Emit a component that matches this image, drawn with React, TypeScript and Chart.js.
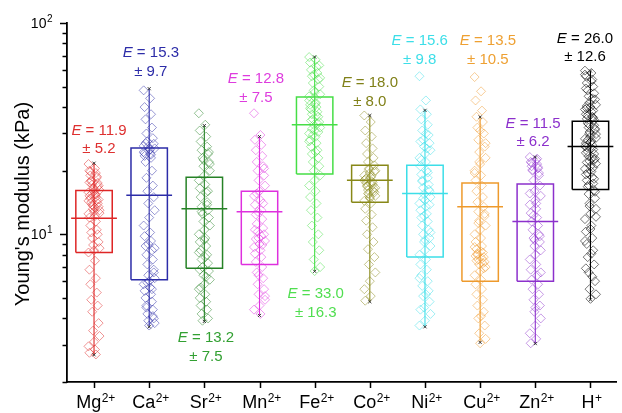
import React, { useEffect, useRef } from "react";
import { Chart, registerables } from "chart.js";

Chart.register(...registerables);

// ---------- data ----------
const categories = ["Mg", "Ca", "Sr", "Mn", "Fe", "Co", "Ni", "Cu", "Zn", "H"];
const charges = ["2+", "2+", "2+", "2+", "2+", "2+", "2+", "2+", "2+", "+"];
const means = [11.9, 15.3, 13.2, 12.8, 33.0, 18.0, 15.6, 13.5, 11.5, 26.0];
const sds = [5.2, 9.7, 7.5, 7.5, 16.3, 8.0, 9.8, 10.5, 6.2, 12.6];
const boxLow = [8.2, 6.1, 6.9, 7.2, 19.3, 14.2, 7.8, 6.0, 6.0, 16.3];
const boxHigh = [16.1, 25.6, 18.6, 16.0, 44.7, 21.2, 21.2, 17.5, 17.3, 34.3];
const whiskLow = [2.69, 3.65, 3.87, 4.13, 6.68, 4.8, 3.65, 3.08, 3.04, 4.9];
const whiskHigh = [21.7, 48.9, 32.7, 29.0, 69.0, 36.5, 38.6, 35.9, 23.2, 59.3];

const mgValues = [21.5, 20.5, 20, 19.5, 19, 18.5, 18, 17.5, 17.2, 17, 16.5, 16.2, 16, 15.8, 15.5, 15.2, 15, 14.8, 14.5, 14.2, 14, 13.8, 13.5, 13.2, 13, 12.8, 12.5, 12.2, 12, 11.5, 11, 10.5, 10.2, 10, 9.6, 9.2, 8.9, 8.6, 8.4, 8.2, 7.5, 6.8, 6.2, 5.8, 5.3, 4.9, 4.6, 4.3, 3.8, 3.5, 3.3, 3.1, 2.95, 2.85, 2.75, 2.7, 19.8, 18.8, 17.8, 16.8, 15.6, 14.6, 13.6, 12.6, 16.4, 14.4, 13.4, 17.6, 15.4];
const caValues = [48, 44, 40, 37, 35, 32, 30, 28.5, 27.5, 26.8, 26, 25.5, 25, 24.5, 24, 23.5, 23, 22, 20, 18.5, 17, 16, 15, 14, 13, 12, 11, 10.2, 9.8, 9.3, 8.8, 8.4, 8, 7.6, 7.2, 6.8, 6.4, 6.2, 6, 5.8, 5.6, 5.4, 5.2, 5, 4.8, 4.6, 4.4, 4.2, 4.0, 3.9, 3.8, 3.7, 26.2, 25.2, 24.2, 23.8, 27, 5.5, 4.5, 4.1, 5.9, 6.6, 9, 8.6];
const srValues = [37.4, 33, 31, 29, 27.5, 26, 25, 24, 23, 22, 21, 20, 19, 18, 17.2, 16.5, 15.8, 15, 14.2, 13.5, 13, 12.5, 12, 11.5, 11, 10.5, 10, 9.6, 9.2, 8.8, 8.4, 8, 7.6, 7.3, 7, 6.7, 6.4, 6.1, 5.8, 5.5, 5.2, 5, 4.8, 4.6, 4.4, 4.2, 4.0, 3.9, 24.5, 22.5, 21.5, 9.4, 8.2, 7.8, 6.8, 6.3, 5.6, 13.8, 12.8, 16];
const mnValues = [37.4, 29.5, 28, 26.5, 25, 23.5, 22, 21, 20, 19, 18, 17, 16, 15.2, 14.5, 13.8, 13, 12.4, 11.8, 11.2, 10.7, 10.3, 10, 9.6, 9.3, 9, 8.7, 8.4, 8.1, 7.8, 7.4, 7, 6.6, 6.2, 5.8, 5.5, 5.2, 4.9, 4.6, 4.4, 4.2, 10.5, 9.8, 9.5, 8.9, 15.6, 14, 12.8, 20.5, 6.4, 5.1];
const feValues = [69, 67, 65, 62, 60, 58, 56, 54, 52, 50, 48, 46, 44.5, 43, 42, 41, 40, 39, 38, 37, 36, 35, 34, 33, 32, 31, 30, 29, 28, 27, 26, 25, 24, 23, 22, 21, 20, 19, 18, 17, 16, 15, 14, 13, 12, 11, 10, 9.2, 8.4, 7.6, 7, 6.7, 45, 41.5, 39.5, 36.5, 34.5, 33.5, 31.5, 30.5, 29.5, 63, 57, 55, 47, 27.5, 24.5];
const coValues = [36.5, 34, 31, 29, 27, 25.5, 24, 23, 22, 21.2, 20.5, 20, 19.5, 19, 18.6, 18.2, 17.8, 17.5, 17.2, 16.8, 16.5, 16.2, 15.8, 15.5, 15.2, 14.8, 14.4, 14, 13.2, 12.4, 11.6, 10.8, 10, 9.2, 8.5, 7.8, 7.2, 6.6, 6, 5.5, 5.1, 4.85, 18.9, 18.4, 17.6, 17.0, 16.0, 15.6, 19.8, 20.2, 16.6, 15.0, 18.0, 17.3];
const niValues = [56, 43, 39, 37, 35, 33, 31, 29.5, 28, 27, 26, 25, 24, 23, 22, 21, 20, 19.2, 18.5, 17.8, 17.2, 16.6, 16, 15.5, 15, 14.5, 14, 13.5, 13, 12.5, 12, 11.5, 11, 10.5, 10, 9.6, 9.2, 8.8, 8.4, 8, 7.6, 7.2, 6.8, 6.4, 6, 5.7, 5.4, 5.1, 4.8, 4.5, 4.2, 3.9, 3.7, 30, 27.5, 25.5, 22.5, 19.6, 18, 16.3, 14.8, 13.8, 12.2, 10.2, 9.4, 6.2, 5.2, 4.4];
const cuValues = [55.5, 47.5, 43, 38.5, 36, 34, 32, 30, 28, 26, 24.5, 23, 21.5, 20, 19, 18, 17, 16, 15, 14.2, 13.5, 12.8, 12.2, 11.6, 11, 10.5, 10, 9.6, 9.2, 8.8, 8.5, 8.2, 8, 7.8, 7.6, 7.4, 7.2, 7, 6.7, 6.4, 6.1, 5.8, 5.5, 5.2, 4.9, 4.6, 4.3, 4, 3.7, 3.4, 3.2, 3.05, 8.7, 8.3, 7.9, 7.7, 7.5, 7.3, 8.1, 6.9, 11.3, 12.5, 22, 27, 31, 19.5, 4.1];
const znValues = [23.2, 22.5, 22, 21.5, 21, 20.5, 20, 19, 18, 17, 16, 15.2, 14.5, 13.8, 13.2, 12.6, 12, 11.5, 11, 10.5, 10, 9.6, 9.2, 8.8, 8.4, 8, 7.6, 7.2, 6.8, 6.4, 6.1, 5.8, 5.5, 5.2, 4.9, 4.6, 4.3, 4, 3.7, 3.4, 3.2, 3.05, 22.8, 21.8, 20.8, 20.2, 19.5, 12.3, 9.8, 9.4, 6.6, 4.5, 15.6, 14];
const hValues = [59.5, 58, 56, 54, 52, 50, 48, 46.5, 45, 43.5, 42, 41, 40, 39, 38, 37, 36, 35.2, 34.4, 33.6, 32.8, 32, 31.2, 30.5, 29.8, 29, 28.3, 27.6, 27, 26.4, 25.8, 25.2, 24.6, 24, 23.4, 22.8, 22.2, 21.6, 21, 20.4, 19.8, 19.2, 18.6, 18, 17.4, 16.8, 16.2, 15.5, 14.8, 14, 13.2, 12.5, 11.8, 11, 10.3, 9.6, 9, 8.4, 7.8, 7.2, 6.6, 6, 5.5, 5.2, 4.95, 57, 53, 49, 44, 40.5, 38.5, 36.5, 34.8, 33.2, 31.6, 30, 28.6, 27.3, 26.1, 25.5, 24.3, 23.1, 21.9, 20.7, 19.5, 18.3, 17.1, 15.9, 13.6, 12.1, 10.6, 9.3, 8.1, 6.9, 6.3, 39.5, 35.6, 28, 22.5];

const pointValues = [mgValues, caValues, srValues, mnValues, feValues, coValues, niValues, cuValues, znValues, hValues];

const yMajorTicks = [10, 100];
const yMajorExp = ["1", "2"];
const yMinorTicks = [2, 3, 4, 5, 6, 7, 8, 9, 20, 30, 40, 50, 60, 70, 80, 90];

// ---------- styles ----------
const colors = [
  [222, 38, 38],
  [44, 44, 168],
  [38, 130, 38],
  [222, 48, 222],
  [70, 222, 70],
  [136, 136, 24],
  [60, 222, 232],
  [238, 154, 44],
  [140, 48, 204],
  [0, 0, 0],
];
const textColors = [
  "rgb(222,48,48)",
  "rgb(44,44,168)",
  "rgb(50,160,50)",
  "rgb(222,60,222)",
  "rgb(80,222,80)",
  "rgb(128,128,24)",
  "rgb(60,222,232)",
  "rgb(238,160,50)",
  "rgb(140,48,204)",
  "rgb(0,0,0)",
];
// annotation: where the first text line sits (kPa), side offset (category units)
const labelAnchor = [31.0, 71.9, 3.22, 54.2, 5.2, 52, 81.9, 81.9, 33.4, 84.4];
const labelShift = [0.09, 0.03, 0.03, -0.066, 0.02, 0.0, -0.095, 0.14, -0.04, -0.1];

const FONT = '"Liberation Sans", Arial, Helvetica, sans-serif';
const rgba = (c: number[], a: number) => `rgba(${c[0]},${c[1]},${c[2]},${a})`;
const jitter = (k: number) => (((k * 7) % 13) - 6) / 6 * 0.1;
const BOX_HALF = 0.33;
const MEAN_HALF = 0.415;

const decorPlugin = {
  id: "decor",
  afterDraw(chart: any) {
    const { ctx, chartArea } = chart;
    const xs = chart.scales.x;
    const ys = chart.scales.y;
    const left = chartArea.left;
    const bottom = chartArea.bottom;
    ctx.save();
    ctx.strokeStyle = "#000";
    ctx.fillStyle = "#000";
    ctx.lineWidth = 1.5;
    // y ticks
    yMajorTicks.forEach((v) => {
      const py = Math.round(ys.getPixelForValue(v)) + 0.5;
      ctx.beginPath();
      ctx.moveTo(left - 7, py);
      ctx.lineTo(left, py);
      ctx.stroke();
    });
    yMinorTicks.forEach((v) => {
      const py = Math.round(ys.getPixelForValue(v)) + 0.5;
      ctx.beginPath();
      ctx.moveTo(left - 4.5, py);
      ctx.lineTo(left, py);
      ctx.stroke();
    });
    // y labels
    yMajorTicks.forEach((v, i) => {
      const py = ys.getPixelForValue(v);
      ctx.font = `14px ${FONT}`;
      const w1 = ctx.measureText("10").width;
      ctx.font = `10px ${FONT}`;
      const w2 = ctx.measureText(yMajorExp[i]).width;
      const xr = left - 15;
      ctx.textBaseline = "alphabetic";
      ctx.textAlign = "left";
      ctx.font = `14px ${FONT}`;
      ctx.fillText("10", xr - w1 - w2, py + 5);
      ctx.font = `10px ${FONT}`;
      ctx.fillText(yMajorExp[i], xr - w2 + 0.5, py - 1);
    });
    // x ticks + labels
    categories.forEach((c, i) => {
      const px = Math.round(xs.getPixelForValue(i)) + 0.5;
      ctx.beginPath();
      ctx.moveTo(px, bottom);
      ctx.lineTo(px, bottom + 6);
      ctx.stroke();
      ctx.font = `18px ${FONT}`;
      const w1 = ctx.measureText(c).width;
      ctx.font = `12px ${FONT}`;
      const w2 = ctx.measureText(charges[i]).width;
      const x0 = px - (w1 + w2) / 2 + 1;
      ctx.textAlign = "left";
      ctx.font = `18px ${FONT}`;
      ctx.fillText(c, x0, 408);
      ctx.font = `12px ${FONT}`;
      ctx.fillText(charges[i], x0 + w1 + 0.5, 402);
    });
    // y title
    ctx.save();
    ctx.translate(28.5, 204);
    ctx.rotate(-Math.PI / 2);
    ctx.textAlign = "center";
    ctx.font = `20px ${FONT}`;
    ctx.fillText("Young's modulus (kPa)", 0, 0);
    ctx.restore();
    // annotations
    categories.forEach((c, i) => {
      const cx = xs.getPixelForValue(i + labelShift[i]);
      const y1 = ys.getPixelForValue(labelAnchor[i]);
      const y2 = y1 + 18.5;
      ctx.fillStyle = textColors[i];
      const rest = ` = ${means[i].toFixed(1)}`;
      ctx.font = `italic 15px ${FONT}`;
      const we = ctx.measureText("E").width;
      ctx.font = `15px ${FONT}`;
      const wr = ctx.measureText(rest).width;
      const x0 = cx - (we + wr) / 2;
      ctx.textAlign = "left";
      ctx.textBaseline = "middle";
      ctx.font = `italic 15px ${FONT}`;
      ctx.fillText("E", x0, y1);
      ctx.font = `15px ${FONT}`;
      ctx.fillText(rest, x0 + we, y1);
      ctx.textAlign = "center";
      ctx.fillText(`± ${sds[i].toFixed(1)}`, cx, y2);
    });
    ctx.restore();
  },
};

export default function App() {
  const ref = useRef<HTMLCanvasElement | null>(null);
  useEffect(() => {
    if (!ref.current) return;
    const datasets: any[] = [];
    categories.forEach((c, i) => {
      const col = colors[i];
      datasets.push({
        type: "scatter",
        label: c + " points",
        data: pointValues[i].map((v, k) => ({ x: i + jitter(k), y: v })),
        pointStyle: "rectRot",
        pointRadius: 4.5,
        borderWidth: 0.9,
        borderColor: rgba(col, i === 9 ? 0.6 : 0.55),
        backgroundColor: "rgba(0,0,0,0)",
        order: 3,
      });
      datasets.push({
        type: "scatter",
        label: c + " whisker",
        showLine: true,
        spanGaps: false,
        data: [
          { x: i, y: whiskLow[i] },
          { x: i, y: whiskHigh[i] },
        ],
        borderColor: rgba(col, 1),
        borderWidth: 1.1,
        pointRadius: 0,
        order: 2,
      });
      datasets.push({
        type: "scatter",
        label: c + " box",
        showLine: true,
        spanGaps: false,
        data: [
          { x: i - BOX_HALF, y: boxLow[i] },
          { x: i - BOX_HALF, y: boxHigh[i] },
          { x: i + BOX_HALF, y: boxHigh[i] },
          { x: i + BOX_HALF, y: boxLow[i] },
          { x: i - BOX_HALF, y: boxLow[i] },
          { x: i, y: null },
          { x: i - MEAN_HALF, y: means[i] },
          { x: i + MEAN_HALF, y: means[i] },
        ],
        borderColor: rgba(col, 1),
        borderWidth: 1.5,
        pointRadius: 0,
        order: 1,
      });
      datasets.push({
        type: "scatter",
        label: c + " ends",
        data: [
          { x: i, y: whiskLow[i] },
          { x: i, y: whiskHigh[i] },
        ],
        pointStyle: "crossRot",
        pointRadius: 2.2,
        borderWidth: 1,
        borderColor: "rgba(40,40,40,0.9)",
        order: 0,
      });
    });

    const chart = new Chart(ref.current, {
      type: "scatter",
      data: { datasets },
      options: {
        animation: false,
        responsive: false,
        devicePixelRatio: 1,
        layout: { padding: { top: 23, left: 0, right: 0, bottom: 0 } },
        plugins: {
          legend: { display: false },
          tooltip: { enabled: false },
        },
        scales: {
          x: {
            type: "linear",
            min: -0.49,
            max: 9.474,
            grid: { display: false, drawTicks: false },
            ticks: { display: false },
            border: { display: true, color: "#000", width: 1.8 },
            afterFit: (s: any) => {
              s.height = 31;
            },
          },
          y: {
            type: "logarithmic",
            min: 2,
            max: 100,
            grid: { display: false, drawTicks: false },
            ticks: { display: false },
            border: { display: true, color: "#000", width: 1.8 },
            afterFit: (s: any) => {
              s.width = 67;
            },
          },
        },
      },
      plugins: [decorPlugin],
    } as any);
    return () => chart.destroy();
  }, []);

  return (
    <div style={{ position: "absolute", left: 0, top: 0, width: 622, height: 413, background: "#fff" }}>
      <canvas ref={ref} width={622} height={413} style={{ width: 622, height: 413 }} />
    </div>
  );
}
